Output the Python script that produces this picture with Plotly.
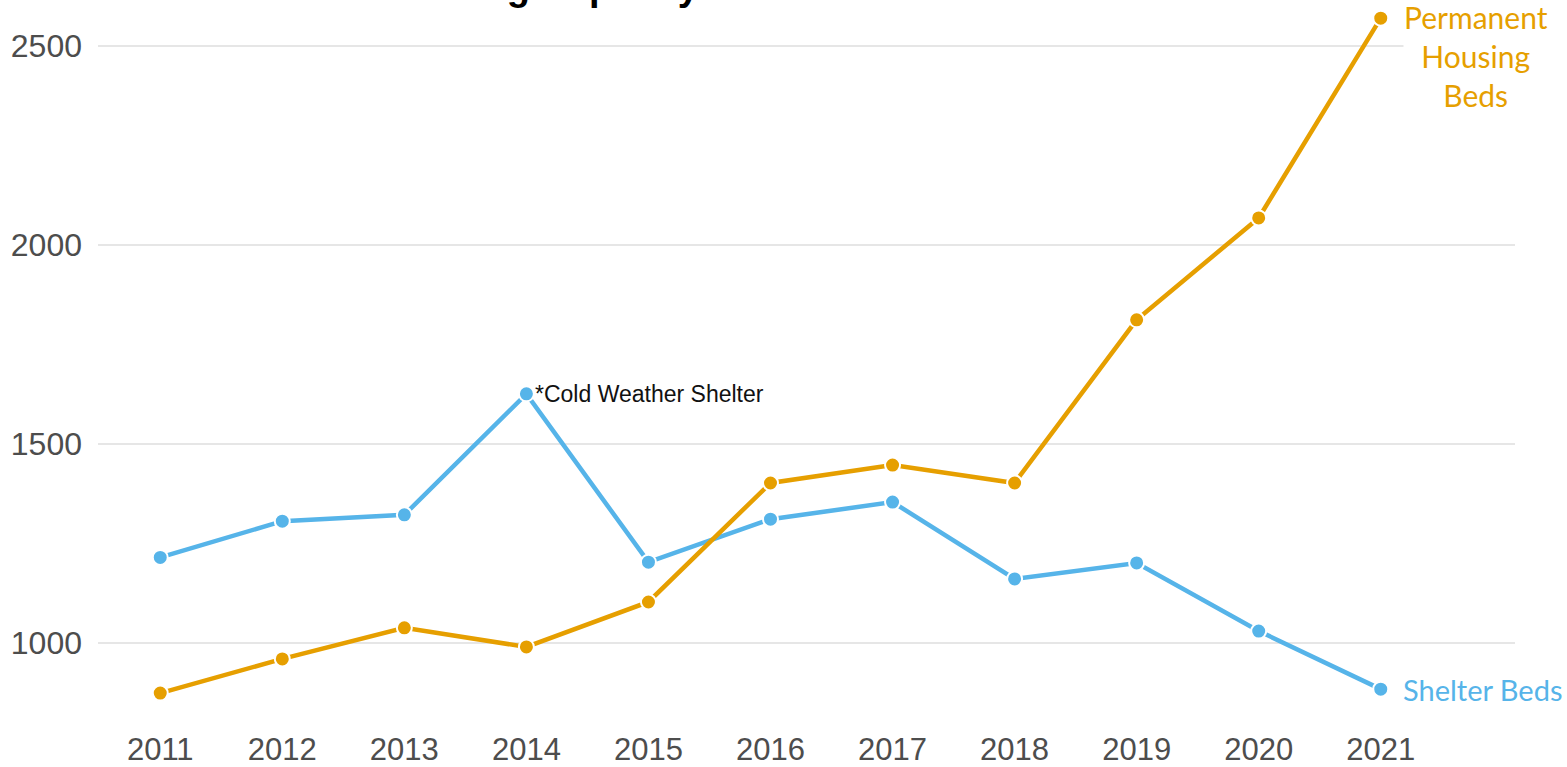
import plotly.graph_objects as go

years = [2011, 2012, 2013, 2014, 2015, 2016, 2017, 2018, 2019, 2020, 2021]
shelter_beds = [1215, 1306, 1322, 1626, 1203, 1311, 1354, 1161, 1201, 1030, 884]
permanent_beds = [874, 960, 1038, 990, 1103, 1402, 1447, 1402, 1812, 2068, 2570]
y_ticks = [1000, 1500, 2000, 2500]

BLUE = "#56B4E9"
ORANGE = "#E69F00"

fig = go.Figure()
for vals, col in [(shelter_beds, BLUE), (permanent_beds, ORANGE)]:
    fig.add_trace(go.Scatter(
        x=years, y=vals, mode="lines+markers",
        line=dict(color=col, width=4.5),
        marker=dict(color=col, size=15, line=dict(color="white", width=2)),
        showlegend=False, hoverinfo="x+y",
    ))

fig.add_annotation(x=years[3], y=shelter_beds[3], text="*Cold Weather Shelter",
                   xanchor="left", yanchor="middle", xshift=7, showarrow=False,
                   font=dict(family="Liberation Sans, Arial", size=23, color="#111111"))
fig.add_annotation(x=years[-1], y=permanent_beds[-1], text="Permanent<br>Housing<br>Beds",
                   xanchor="left", yanchor="middle", align="center", xshift=22, yshift=-38,
                   showarrow=False, bgcolor="white", borderpad=0,
                   font=dict(family="Lato", size=30, color=ORANGE))
fig.add_annotation(x=years[-1], y=shelter_beds[-1], text="Shelter Beds",
                   xanchor="left", yanchor="middle", xshift=20, showarrow=False,
                   bgcolor="white",
                   font=dict(family="Lato", size=29, color=BLUE))
fig.add_annotation(xref="paper", yref="paper", x=0.4256, y=1, xanchor="right", yanchor="bottom",
                   yshift=-10, text="<b>Housing Capacity</b>", showarrow=False,
                   font=dict(family="Liberation Sans, Arial", size=38, color="black"))

fig.update_layout(
    width=1567, height=767,
    margin=dict(l=98, r=52, t=0, b=52, autoexpand=False),
    paper_bgcolor="white", plot_bgcolor="white",
    xaxis=dict(range=[2010.49, 2022.1], tickvals=years, ticktext=[str(y) for y in years],
               showgrid=False, zeroline=False, showline=False, ticks="",
               ticklabelstandoff=13, automargin=False,
               tickfont=dict(family="Liberation Sans, Arial", size=31, color="#4d4d4d")),
    yaxis=dict(range=[819, 2615.6], tickvals=y_ticks, showgrid=True, gridcolor="#e6e6e6",
               gridwidth=2, zeroline=False, showline=False, ticks="",
               ticklabelstandoff=15, automargin=False,
               tickfont=dict(family="Liberation Sans, Arial", size=32, color="#4d4d4d")),
)

fig.write_html("out.html", config={"displayModeBar": False},
               post_script="document.body.style.margin='0';document.body.style.overflow='hidden';")
